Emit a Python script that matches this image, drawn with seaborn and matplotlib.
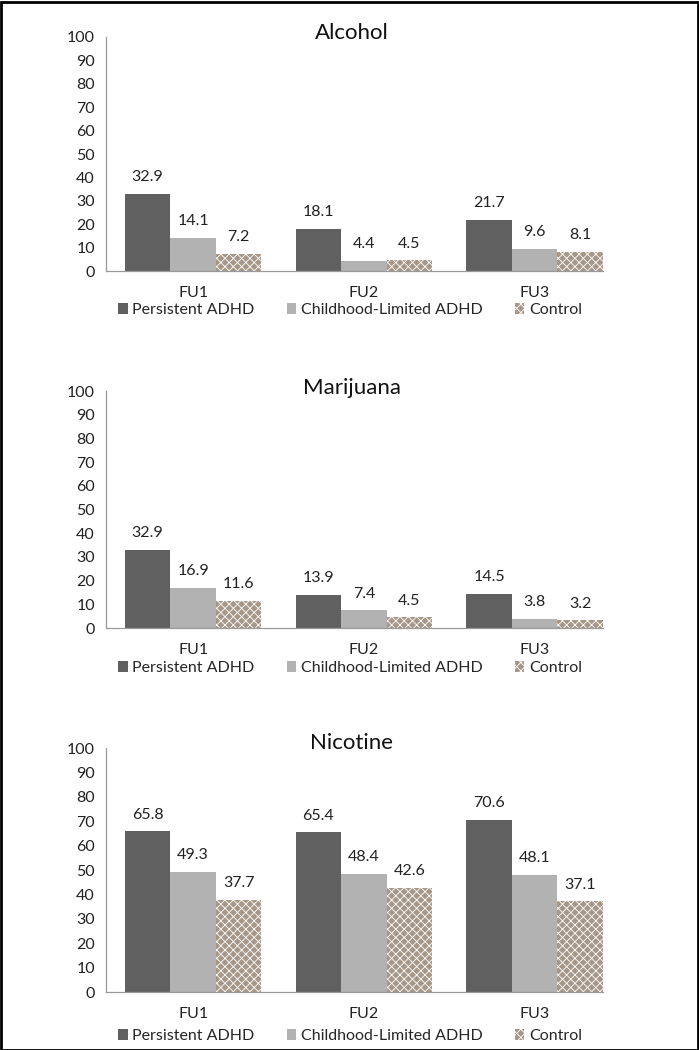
import matplotlib
matplotlib.use("Agg")
import matplotlib.pyplot as plt
import seaborn as sns
import pandas as pd
from matplotlib.patches import Rectangle

# data
visits = ["FU1", "FU2", "FU3"]
groups = ["Persistent ADHD", "Childhood-Limited ADHD", "Control"]
titles = ["Alcohol", "Marijuana", "Nicotine"]

alcohol_persistent = [32.9, 18.1, 21.7]
alcohol_limited = [14.1, 4.4, 9.6]
alcohol_control = [7.2, 4.5, 8.1]

marijuana_persistent = [32.9, 13.9, 14.5]
marijuana_limited = [16.9, 7.4, 3.8]
marijuana_control = [11.6, 4.5, 3.2]

nicotine_persistent = [65.8, 65.4, 70.6]
nicotine_limited = [49.3, 48.4, 48.1]
nicotine_control = [37.7, 42.6, 37.1]

yticks = list(range(0, 101, 10))

panels = [
    (alcohol_persistent, alcohol_limited, alcohol_control),
    (marijuana_persistent, marijuana_limited, marijuana_control),
    (nicotine_persistent, nicotine_limited, nicotine_control),
]

sns.set_theme(style="white")
plt.rcParams["font.family"] = ["Lato", "DejaVu Sans"]
plt.rcParams["hatch.color"] = "#5f5044"
plt.rcParams["hatch.linewidth"] = 0.6

colors = {"Persistent ADHD": "#606060",
          "Childhood-Limited ADHD": "#b2b2b2",
          "Control": "#a69788"}
texture = "xxxx"

W, H = 699, 1050
fig = plt.figure(figsize=(W / 100, H / 100), dpi=100)

# pixel boxes: (top, bottom) of plot area, title y, legend y
boxes = [(37, 271, 33, 310), (391, 628, 388, 668), (748, 992, 743, 1036)]
left_px, right_px = 106, 603

for (pers, lim, ctrl), title, (top, bot, ty, ly) in zip(panels, titles, boxes):
    df = pd.DataFrame({
        "visit": visits * 3,
        "group": [groups[0]] * 3 + [groups[1]] * 3 + [groups[2]] * 3,
        "value": pers + lim + ctrl,
    })
    ax = fig.add_axes([left_px / W, 1 - bot / H,
                       (right_px - left_px) / W, (bot - top) / H])
    sns.barplot(data=df, x="visit", y="value", hue="group", order=visits,
                hue_order=groups, palette=colors, width=0.8, saturation=1,
                linewidth=0, ax=ax, legend=False)
    # granite-like texture for control bars
    for p in ax.containers[2]:
        p.set_hatch(texture)
    for c in ax.containers:
        ax.bar_label(c, fmt="%.1f", padding=7, fontsize=11.5, color="#222222")

    ax.set_ylim(0, 100)
    ax.set_xlim(-0.51, 2.40)
    ax.set_yticks(yticks)
    ax.set_xlabel("")
    ax.set_ylabel("")
    for s in ["top", "right"]:
        ax.spines[s].set_visible(False)
    for s in ["left", "bottom"]:
        ax.spines[s].set_color("#9a9a9a")
        ax.spines[s].set_linewidth(0.9)
    ax.tick_params(axis="both", length=0, labelsize=11.5, labelcolor="#222222")
    ax.tick_params(axis="y", pad=8)
    ax.tick_params(axis="x", pad=11)

    fig.text(352 / W, 1 - ty / H, title, ha="center", va="center",
             fontsize=16, color="#111111")

    handles = [Rectangle((0, 0), 1, 1, facecolor=colors[g], linewidth=0,
                         hatch=texture if g == "Control" else None)
               for g in groups]
    fig.legend(handles, groups, loc="center", ncol=3,
               bbox_to_anchor=(350 / W, 1 - ly / H), frameon=False,
               fontsize=11.5, handlelength=0.6, handleheight=0.7,
               handletextpad=0.3, columnspacing=2.0, borderpad=0)

fig.patches.append(Rectangle((0.5 / W, 0.5 / H), 1 - 2 / W, 1 - 2 / H,
                             transform=fig.transFigure, fill=False,
                             edgecolor="black", linewidth=2))

fig.savefig("out.png", dpi=100)
